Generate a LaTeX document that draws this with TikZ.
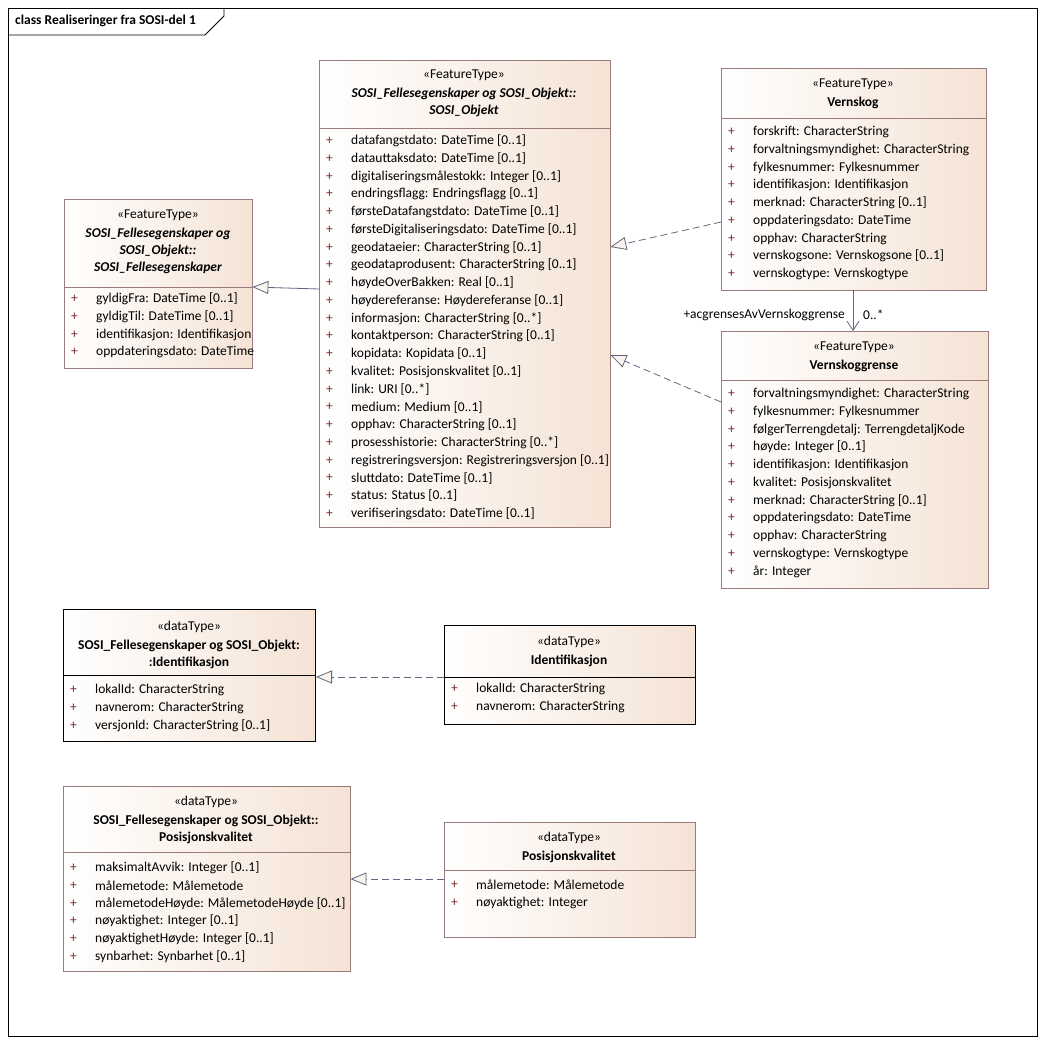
\documentclass[tikz,border=0pt]{standalone}
\usepackage{fontspec}
\setmainfont{Carlito}
\usetikzlibrary{positioning, arrows.meta}
\definecolor{umlborder}{HTML}{9A7B7B}
\definecolor{umlfill}{HTML}{F5E3D5}
\definecolor{plus}{HTML}{7A2A2A}
\definecolor{linkcol}{HTML}{5E6680}
\tikzset{
  cls/.style={draw=umlborder, anchor=north west, left color=white, right color=umlfill, inner sep=0pt},
  strong/.style={cls, draw=black, line width=1pt},
  stereo/.style={font=\fontsize{13.5}{17}\selectfont, anchor=center},
  cname/.style={font=\fontsize{13.5}{17}\selectfont\bfseries, align=center, anchor=north},
  attr/.style={font=\fontsize{13.5}{17}\selectfont, anchor=west, inner sep=0pt},
  realize/.style={draw=linkcol, dashed, dash pattern=on 7pt off 4pt, thick, -{Triangle[open, length=16pt, width=13pt, fill=umlfill!40]}},
  general/.style={draw=linkcol, thick, -{Triangle[open, length=16pt, width=13pt, fill=umlfill!40]}},
  assoc/.style={draw=linkcol, thick, -{Straight Barb[length=9pt, width=12pt]}}
}
% attribute list: x, first y, list
\newcommand\umlattrs[3]{%
  \foreach \t [count=\i from 0] in {#3} {
    \node[attr, text=plus] at (#1+7, #2+\i*17.75) {+};
    \node[attr] at (#1+32, #2+\i*17.75) {\t};
  }}
\begin{document}
\begin{tikzpicture}[x=1pt, y=-1pt]
\useasboundingbox (0,0) rectangle (1045,1044);
% frame
\draw[thick] (8,8) rectangle (1037,1036);
\draw[thick] (8,35) -- (205,35) -- (224,16) -- (224,8);
\node[attr, font=\fontsize{13.5}{17}\selectfont\bfseries] (title) at (15,21) {class Realiseringer fra SOSI-del 1};

% SOSI_Fellesegenskaper
\node[cls, minimum width=188pt, minimum height=169pt] (felles) at (64,199) {};
\draw[umlborder] (64,287) -- (252,287);
\node[stereo] at (158,215) {«FeatureType»};
\node[cname, font=\fontsize{13.5}{17}\selectfont\bfseries\itshape] at (158,224) {SOSI\_Fellesegenskaper og\\SOSI\_Objekt::\\SOSI\_Fellesegenskaper};
\umlattrs{64}{299}{gyldigFra: DateTime [0..1], gyldigTil: DateTime [0..1], identifikasjon: Identifikasjon, oppdateringsdato: DateTime}

% SOSI_Objekt
\node[cls, minimum width=291pt, minimum height=467pt] (objekt) at (319,60) {};
\draw[umlborder] (319,128) -- (610,128);
\node[stereo] at (464,75) {«FeatureType»};
\node[cname, font=\fontsize{13.5}{17}\selectfont\bfseries\itshape] at (464,84) {SOSI\_Fellesegenskaper og SOSI\_Objekt::\\SOSI\_Objekt};
\umlattrs{319}{141}{datafangstdato: DateTime [0..1], datauttaksdato: DateTime [0..1], digitaliseringsmålestokk: Integer [0..1], endringsflagg: Endringsflagg [0..1], førsteDatafangstdato: DateTime [0..1], førsteDigitaliseringsdato: DateTime [0..1], geodataeier: CharacterString [0..1], geodataprodusent: CharacterString [0..1], høydeOverBakken: Real [0..1], høydereferanse: Høydereferanse [0..1], informasjon: CharacterString [0..*], kontaktperson: CharacterString [0..1], kopidata: Kopidata [0..1], kvalitet: Posisjonskvalitet [0..1], link: URI [0..*], medium: Medium [0..1], opphav: CharacterString [0..1], prosesshistorie: CharacterString [0..*], registreringsversjon: Registreringsversjon [0..1], sluttdato: DateTime [0..1], status: Status [0..1], verifiseringsdato: DateTime [0..1]}

% Vernskog
\node[cls, minimum width=265pt, minimum height=222pt] (vernskog) at (721,68) {};
\draw[umlborder] (721,118) -- (986,118);
\node[stereo] at (853,84) {«FeatureType»};
\node[cname] at (853,93) {Vernskog};
\umlattrs{721}{132}{forskrift: CharacterString, forvaltningsmyndighet: CharacterString, fylkesnummer: Fylkesnummer, identifikasjon: Identifikasjon, merknad: CharacterString [0..1], oppdateringsdato: DateTime, opphav: CharacterString, vernskogsone: Vernskogsone [0..1], vernskogtype: Vernskogtype}

% Vernskoggrense
\node[cls, minimum width=267pt, minimum height=257pt] (grense) at (721,331) {};
\draw[umlborder] (721,380) -- (988,380);
\node[stereo] at (854,347) {«FeatureType»};
\node[cname] at (854,356) {Vernskoggrense};
\umlattrs{721}{394}{forvaltningsmyndighet: CharacterString, fylkesnummer: Fylkesnummer, følgerTerrengdetalj: TerrengdetaljKode, høyde: Integer [0..1], identifikasjon: Identifikasjon, kvalitet: Posisjonskvalitet, merknad: CharacterString [0..1], oppdateringsdato: DateTime, opphav: CharacterString, vernskogtype: Vernskogtype, år: Integer}

% Identifikasjon (SOSI)
\node[strong, minimum width=252pt, minimum height=132pt] (identsosi) at (63,609) {};
\draw[black] (63,675) -- (315,675);
\node[stereo] at (189,627) {«dataType»};
\node[cname] at (189,636) {SOSI\_Fellesegenskaper og SOSI\_Objekt:\\:Identifikasjon};
\umlattrs{63}{690}{lokalId: CharacterString, navnerom: CharacterString, versjonId: CharacterString [0..1]}

% Identifikasjon
\node[strong, minimum width=251pt, minimum height=99pt] (ident) at (444,625) {};
\draw[black] (444,677) -- (695,677);
\node[stereo] at (569,642) {«dataType»};
\node[cname] at (569,651) {Identifikasjon};
\umlattrs{444}{689}{lokalId: CharacterString, navnerom: CharacterString}

% Posisjonskvalitet (SOSI)
\node[cls, minimum width=287pt, minimum height=185pt] (possosi) at (63,786) {};
\draw[umlborder] (63,852) -- (350,852);
\node[stereo] at (206,802) {«dataType»};
\node[cname] at (206,811) {SOSI\_Fellesegenskaper og SOSI\_Objekt::\\Posisjonskvalitet};
\umlattrs{63}{868}{maksimaltAvvik: Integer [0..1], målemetode: Målemetode, målemetodeHøyde: MålemetodeHøyde [0..1], nøyaktighet: Integer [0..1], nøyaktighetHøyde: Integer [0..1], synbarhet: Synbarhet [0..1]}

% Posisjonskvalitet
\node[cls, minimum width=251pt, minimum height=115pt] (pos) at (444,822) {};
\draw[umlborder] (444,870) -- (695,870);
\node[stereo] at (569,838) {«dataType»};
\node[cname] at (569,847) {Posisjonskvalitet};
\umlattrs{444}{885}{målemetode: Målemetode, nøyaktighet: Integer}

% connectors
\draw[general] (objekt.west |- 0,289) -- (felles.east |- 0,287);
\draw[realize] (vernskog.west |- 0,222) -- (objekt.east |- 0,247);
\draw[realize] (grense.west |- 0,402) -- (objekt.east |- 0,355);
\draw[assoc] (vernskog.south -| 853,0) -- (grense.north -| 853,0);
\node[attr, anchor=east] (rolle) at (845,315) {+acgrensesAvVernskoggrense};
\node[attr] (mult) at (863,315) {0..*};
\draw[realize] (ident.west |- 0,677) -- (identsosi.east |- 0,677);
\draw[realize] (pos.west |- 0,879) -- (possosi.east |- 0,879);
\end{tikzpicture}
\end{document}
